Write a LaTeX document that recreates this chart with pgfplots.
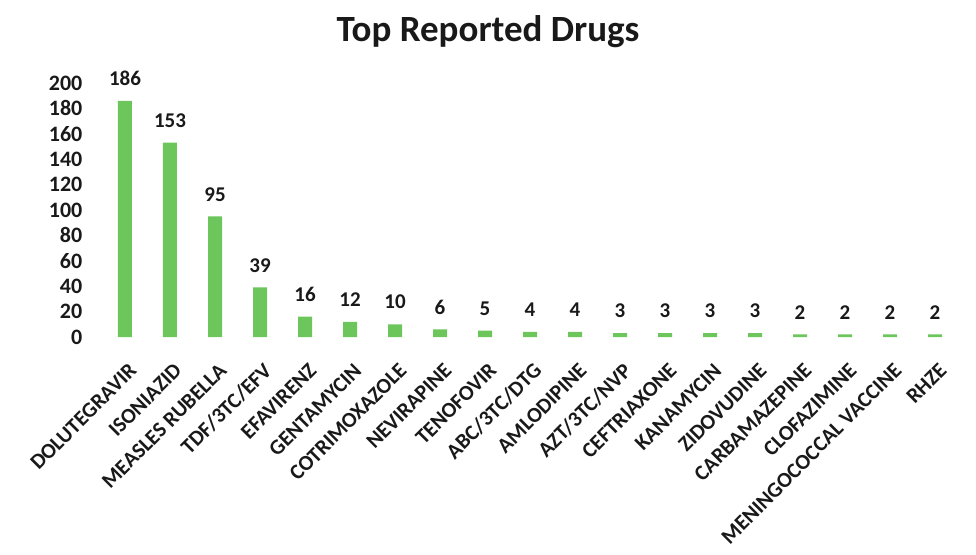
\documentclass[border=0pt]{standalone}
\usepackage{pgfplots}
\pgfplotsset{compat=1.18}
\usepackage{fontspec}
\setmainfont{Carlito}
\usetikzlibrary{calc}
\definecolor{bargreen}{RGB}{108,198,92}
\newcommand{\xl}[1]{\rule{0pt}{33.6pt}#1\hspace*{15.6pt}}
\begin{document}
\begin{tikzpicture}
\begin{axis}[
  name=ax,
  scale only axis,
  width=855pt, height=254pt,
  ybar, bar width=14pt,
  xmin=-0.5, xmax=18.5,
  ymin=0, ymax=200,
  ytick={0,20,...,200},
  xtick={0,...,18},
  xticklabels={\xl{DOLUTEGRAVIR},\xl{ISONIAZID},\xl{MEASLES RUBELLA},\xl{TDF/3TC/EFV},\xl{EFAVIRENZ},\xl{GENTAMYCIN},\xl{COTRIMOXAZOLE},\xl{NEVIRAPINE},\xl{TENOFOVIR},\xl{ABC/3TC/DTG},\xl{AMLODIPINE},\xl{AZT/3TC/NVP},\xl{CEFTRIAXONE},\xl{KANAMYCIN},\xl{ZIDOVUDINE},\xl{CARBAMAZEPINE},\xl{CLOFAZIMINE},\xl{MENINGOCOCCAL VACCINE},\xl{RHZE}},
  axis line style={draw=none},
  major tick length=0pt,
  clip=false,
  /pgf/number format/assume math mode=true,
  yticklabel style={font=\fontsize{22}{24}\selectfont\bfseries, color=black!90, anchor=east, inner sep=0pt, xshift=-20pt},
  xticklabel style={font=\fontsize{21.5}{24}\selectfont\bfseries, color=black!90, rotate=45, anchor=north east, inner sep=0pt},
  nodes near coords,
  nodes near coords style={font=\fontsize{21}{23}\selectfont\bfseries, color=black!90, anchor=south, inner sep=0pt, yshift=15pt},
]
\addplot[fill=bargreen, draw=none] coordinates {
(0,186) (1,153) (2,95) (3,39) (4,16) (5,12) (6,10) (7,6) (8,5) (9,4)
(10,4) (11,3) (12,3) (13,3) (14,3) (15,2) (16,2) (17,2) (18,2)};
\end{axis}
\node[font=\fontsize{37}{40}\selectfont\bfseries, color=black!90] at ($(ax.south west)+(385.5pt,305pt)$) {Top Reported Drugs};
\pgfresetboundingbox
\path ($(ax.south west)+(-102.5pt,-217pt)$) rectangle ($(ax.south west)+(873.5pt,337pt)$);
\end{tikzpicture}
\end{document}
